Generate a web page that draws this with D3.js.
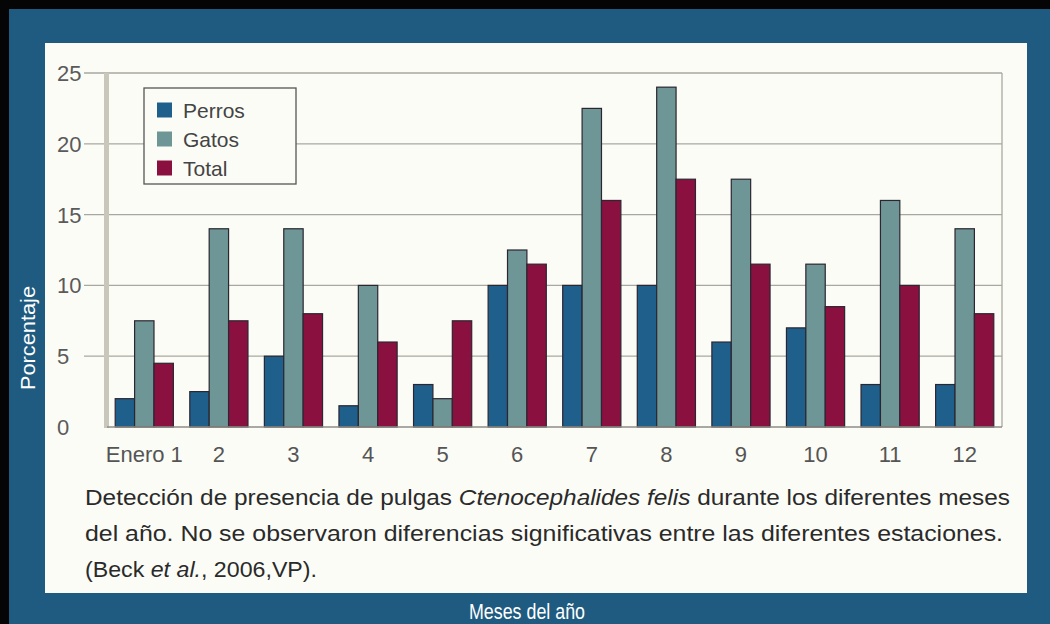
<!DOCTYPE html>
<html><head><meta charset="utf-8">
<script src="https://cdn.jsdelivr.net/npm/d3@7"></script>
<style>body{margin:0;background:#000}svg{display:block}</style>
</head><body>
<svg id="c" width="1050" height="624"></svg>
<script>
const months = ["Enero 1","2","3","4","5","6","7","8","9","10","11","12"];
const seriesNames = ["Perros","Gatos","Total"];
const perros = [2, 2.5, 5, 1.5, 3, 10, 10, 10, 6, 7, 3, 3];
const gatos  = [7.5, 14, 14, 10, 2, 12.5, 22.5, 24, 17.5, 11.5, 16, 14];
const total  = [4.5, 7.5, 8, 6, 7.5, 11.5, 16, 17.5, 11.5, 8.5, 10, 8];
const yTicks = [0, 5, 10, 15, 20, 25];
const colors = ["#1f5f8c", "#6e9696", "#8a1040"];

const svg = d3.select("#c");
const font = "'Liberation Sans', Arial, Helvetica, sans-serif";

// frames
svg.append("rect").attr("x",0).attr("y",0).attr("width",1050).attr("height",624).attr("fill","#050505");
svg.append("rect").attr("x",9).attr("y",9).attr("width",1041).attr("height",615).attr("fill","#1f5b80");
svg.append("rect").attr("x",45).attr("y",43).attr("width",982).attr("height",550).attr("fill","#fcfcf7");

const L=107, R=1002, T=73, B=427;
const x0 = d3.scaleBand().domain(months).range([L,R]).paddingInner(0.22).paddingOuter(0.11);
const x1 = d3.scaleBand().domain(seriesNames).range([0,x0.bandwidth()]).padding(0);
const y = d3.scaleLinear().domain([0,25]).range([B,T]);

// gridlines & y labels
const g = svg.append("g");
g.selectAll("line.grid").data(yTicks.filter(d=>d>0)).join("line")
  .attr("x1",84).attr("x2",R).attr("y1",d=>y(d)).attr("y2",d=>y(d))
  .attr("stroke","#a9a8a0").attr("stroke-width",1.3);
g.selectAll("text.yl").data(yTicks).join("text")
  .attr("x",57).attr("y",d=>y(d)).attr("dy","0.36em")
  .attr("font-family",font).attr("font-size",22).attr("fill","#5a5a5a")
  .text(d=>d);
// right frame
g.append("line").attr("x1",R).attr("x2",R).attr("y1",T).attr("y2",B).attr("stroke","#a9a8a0").attr("stroke-width",1.3);
// left axis (wide pale bar)
g.append("rect").attr("x",104).attr("y",T).attr("width",5).attr("height",B-T+1).attr("fill","#c9c6bb");

// bars
const data = months.map((m,i)=>({m, vals:[perros[i],gatos[i],total[i]]}));
const groups = svg.append("g").selectAll("g").data(data).join("g")
  .attr("transform",d=>`translate(${x0(d.m)},0)`);
groups.selectAll("rect").data(d=>d.vals.map((v,j)=>({s:seriesNames[j],v,j}))).join("rect")
  .attr("x",d=>x1(d.s)).attr("width",x1.bandwidth())
  .attr("y",d=>y(d.v)).attr("height",d=>B-y(d.v))
  .attr("fill",d=>colors[d.j]).attr("stroke","#2b2630").attr("stroke-width",1.2);

// baseline
svg.append("line").attr("x1",L).attr("x2",R).attr("y1",B).attr("y2",B).attr("stroke","#8f8d86").attr("stroke-width",1.5);

// x labels
svg.append("g").selectAll("text").data(months).join("text")
  .attr("x",d=>x0(d)+x0.bandwidth()/2).attr("y",462)
  .attr("text-anchor","middle").attr("font-family",font).attr("font-size",22).attr("fill","#555")
  .text(d=>d);

// legend
const lg = svg.append("g");
lg.append("rect").attr("x",144).attr("y",88).attr("width",152).attr("height",96)
  .attr("fill","#fcfcf7").attr("stroke","#555").attr("stroke-width",1.3);
seriesNames.forEach((s,i)=>{
  const cy = 110 + i*29;
  lg.append("rect").attr("x",157).attr("y",cy-7.5).attr("width",15).attr("height",15).attr("fill",colors[i]);
  lg.append("text").attr("x",183).attr("y",cy).attr("dy","0.36em")
    .attr("font-family",font).attr("font-size",21).attr("fill","#444").text(s);
});

// caption
const cap = svg.append("g").attr("font-family",font).attr("font-size",22).attr("fill","#2a2a2a");
const l1 = cap.append("text").attr("x",85).attr("y",505).attr("textLength",925).attr("lengthAdjust","spacingAndGlyphs");
l1.append("tspan").text("Detección de presencia de pulgas ");
l1.append("tspan").attr("font-style","italic").text("Ctenocephalides felis");
l1.append("tspan").text(" durante los diferentes meses");
cap.append("text").attr("x",85).attr("y",541).attr("textLength",918).attr("lengthAdjust","spacingAndGlyphs")
  .text("del año. No se observaron diferencias significativas entre las diferentes estaciones.");
const l3 = cap.append("text").attr("x",85).attr("y",577).attr("textLength",232).attr("lengthAdjust","spacingAndGlyphs");
l3.append("tspan").text("(Beck ");
l3.append("tspan").attr("font-style","italic").text("et al.");
l3.append("tspan").text(", 2006,VP).");

// axis titles
svg.append("text").attr("x",527).attr("y",619).attr("text-anchor","middle")
  .attr("font-family",font).attr("font-size",22).attr("fill","#fff")
  .attr("textLength",116).attr("lengthAdjust","spacingAndGlyphs").text("Meses del año");
svg.append("text").attr("transform","translate(35,338) rotate(-90)").attr("text-anchor","middle")
  .attr("font-family",font).attr("font-size",21).attr("fill","#fff")
  .attr("textLength",104).attr("lengthAdjust","spacingAndGlyphs").text("Porcentaje");
</script>
</body></html>
